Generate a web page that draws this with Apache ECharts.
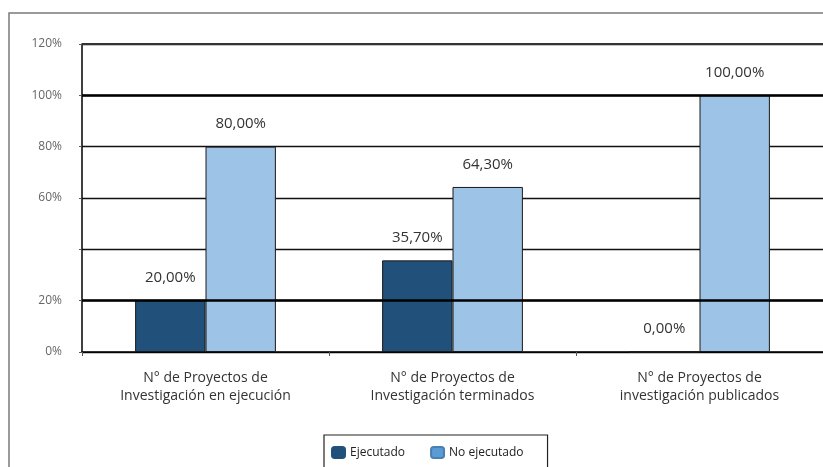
<!DOCTYPE html>
<html>
<head>
<meta charset="utf-8">
<script src="https://cdn.jsdelivr.net/npm/echarts@6/dist/echarts.min.js"></script>
<style>
  html, body { margin: 0; padding: 0; background: #fff; overflow: hidden; }
  #chart { width: 823px; height: 467px; }
</style>
</head>
<body>
<div id="chart"></div>
<script>
// Project categories (x axis)
const categories = [
  'N° de Proyectos de\nInvestigación en ejecución',
  'N° de Proyectos de\nInvestigación terminados',
  'N° de Proyectos de\ninvestigación publicados'
];
// Percentages per status
const ejecutado = [20.0, 35.7, 0.0];
const noEjecutado = [80.0, 64.3, 100.0];
// Y axis tick labels (40% is left blank)
const yTickLabels = { 0: '0%', 20: '20%', 40: '', 60: '60%', 80: '80%', 100: '100%', 120: '120%' };
// Heavier reference lines drawn over the grid
const heavyLines = [20, 100, 120];

const fontFamily = '"Open Sans", Lato, sans-serif';
const fmt = v => v.toFixed(2).replace('.', ',') + '%';

const chart = echarts.init(document.getElementById('chart'));
chart.setOption({
  animation: false,
  textStyle: { fontFamily },
  graphic: [{
    // frame around the chart (left and top edges visible)
    type: 'polyline',
    shape: { points: [[9, 467], [9, 13], [823, 13]] },
    style: { fill: 'none', stroke: '#7a7a7a', lineWidth: 1.5 },
    z: 0
  }],
  grid: { left: 82, right: 0, top: 44, bottom: 115 },
  legend: {
    left: 324, top: 435,
    orient: 'horizontal',
    padding: [11, 24, 30, 7],
    borderColor: '#222', borderWidth: 1.2,
    itemWidth: 13, itemHeight: 11, itemGap: 25,
    textStyle: { fontSize: 12, color: '#222', fontFamily },
    data: [
      { name: 'Ejecutado', itemStyle: { color: '#21507a', borderColor: '#21507a' } },
      { name: 'No ejecutado', itemStyle: { color: '#5b9bd5', borderColor: '#4a80b0' } }
    ]
  },
  xAxis: {
    type: 'category',
    data: categories,
    axisLine: { lineStyle: { color: '#000', width: 1.5 } },
    axisTick: { show: true, length: 4, lineStyle: { color: '#555' } },
    axisLabel: { fontSize: 14, color: '#333', lineHeight: 18, margin: 17, interval: 0 },
    splitLine: { show: false }
  },
  yAxis: {
    type: 'value',
    min: 0, max: 120, interval: 20,
    axisLine: { show: true, lineStyle: { color: '#000', width: 1.5 } },
    axisTick: { show: true, length: 3, lineStyle: { color: '#555' } },
    axisLabel: {
      fontSize: 12, color: '#666', margin: 20,
      formatter: v => yTickLabels[v] !== undefined ? yTickLabels[v] : ''
    },
    splitLine: { lineStyle: { color: '#111', width: 1.3 } }
  },
  series: [
    {
      name: 'Ejecutado',
      type: 'bar',
      data: ejecutado,
      barGap: '0%',
      barCategoryGap: '43%',
      itemStyle: { color: '#21507a', borderColor: '#1a1a1a', borderWidth: 1 },
      label: {
        show: true, position: 'top', distance: 15,
        fontSize: 15, color: '#333',
        formatter: p => fmt(p.value)
      },
      markLine: {
        silent: true, symbol: 'none', label: { show: false },
        data: heavyLines.map(v => ({
          yAxis: v,
          lineStyle: { color: v === 120 ? '#333' : '#000', width: v === 120 ? 2 : 2.6, type: 'solid' }
        }))
      },
      z: 3
    },
    {
      name: 'No ejecutado',
      type: 'bar',
      data: noEjecutado,
      itemStyle: { color: '#9dc3e6', borderColor: '#1a1a1a', borderWidth: 1 },
      label: {
        show: true, position: 'top', distance: 15,
        fontSize: 15, color: '#333',
        formatter: p => fmt(p.value)
      },
      z: 3
    }
  ]
});
</script>
</body>
</html>
